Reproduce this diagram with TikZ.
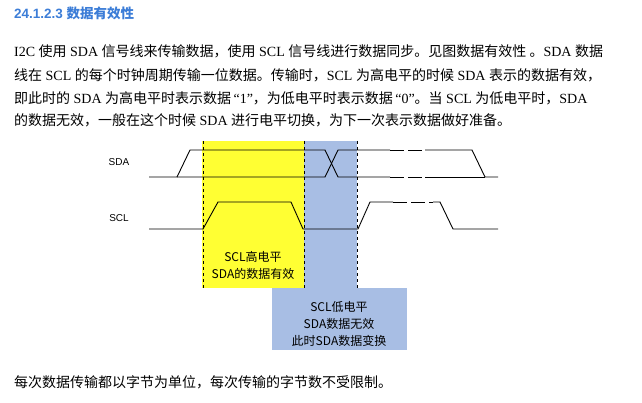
\documentclass[tikz,border=0pt]{standalone}
\usepackage{fontspec}
\setmainfont{Liberation Serif}
\newfontfamily\cjk{Noto Sans CJK SC}
\newfontfamily\lsans{Liberation Sans}
\definecolor{ttl}{RGB}{60,125,215}
\definecolor{blu}{RGB}{168,190,228}
\definecolor{yel}{RGB}{255,255,51}
\begin{document}
\begin{tikzpicture}[x=1pt,y=-1pt,
  txt/.style={anchor=west,inner sep=0pt,font=\fontsize{14}{15}\selectfont},
  sig/.style={line width=0.9pt},
  vd/.style={dashed,line width=0.6pt},
  box/.style={inner sep=0pt,align=center,font=\fontsize{12}{17}\selectfont\cjk}]
\useasboundingbox (0,0) rectangle (642,403);
\node[txt,font=\fontsize{13.5}{14}\selectfont\lsans\bfseries,text=ttl] (t) at (14,13) {24.1.2.3 {\cjk 数据有效性}};
\node[txt] (l1) at (14,51) {I2C {\cjk 使用} SDA {\cjk 信号线来传输数据，使用} SCL {\cjk 信号线进行数据同步。见图数据有效性 。}SDA {\cjk 数据}};
\node[txt] (l2) at (14,75) {{\cjk 线在} SCL {\cjk 的每个时钟周期传输一位数据。传输时，}SCL {\cjk 为高电平的时候} SDA {\cjk 表示的数据有效，}};
\node[txt] (l3) at (14,98) {{\cjk 即此时的} SDA {\cjk 为高电平时表示数据}\,“1”{\cjk ，为低电平时表示数据}\,“0”{\cjk 。当} SCL {\cjk 为低电平时，}SDA};
\node[txt] (l4) at (14,120) {{\cjk 的数据无效，一般在这个时候} SDA {\cjk 进行电平切换，为下一次表示数据做好准备。}};
\node[txt] (l5) at (14,382) {\cjk 每次数据传输都以字节为单位，每次传输的字节数不受限制。};
% boxes
\fill[yel] (202,141) rectangle (304,288);
\fill[blu] (304,141) rectangle (357,290);
\fill[blu] (272,288) rectangle (407,350);
\node[box] (yb) at (253,265) {SCL高电平\\SDA的数据有效};
\node[box] (bb) at (339,324) {SCL低电平\\SDA数据无效\\此时SDA数据变换};
\draw[vd] (203,141) -- (203,288);
\draw[vd] (304,141) -- (304,288);
\draw[vd] (357,141) -- (357,288);
% labels
\node[inner sep=0pt,font=\fontsize{10}{12}\selectfont\lsans] (sda) at (119,162) {SDA};
\node[inner sep=0pt,font=\fontsize{10}{12}\selectfont\lsans] (scl) at (119,218) {SCL};
% SDA
\draw[sig] (149,177) -- (177,177) -- (190,150) -- (325,150) -- (338,177) -- (390,177);
\draw[sig] (177,177) -- (325,177) -- (338,150) -- (390,150);
\draw[sig,dash pattern=on 14pt off 4pt] (390,150) -- (425,150) (390,177) -- (425,177);
\draw[sig] (425,150) -- (472,150) -- (485,177) -- (498,177);
\draw[sig] (425,177) -- (485,177);
% SCL
\draw[sig] (149,229) -- (203,229) -- (218,202) -- (291,202) -- (303,229) -- (358,229) -- (370,202) -- (393,202);
\draw[sig,dash pattern=on 14pt off 4pt] (393,202) -- (433,202);
\draw[sig] (433,202) -- (440,202) -- (453,229) -- (498,229);
\end{tikzpicture}
\end{document}
